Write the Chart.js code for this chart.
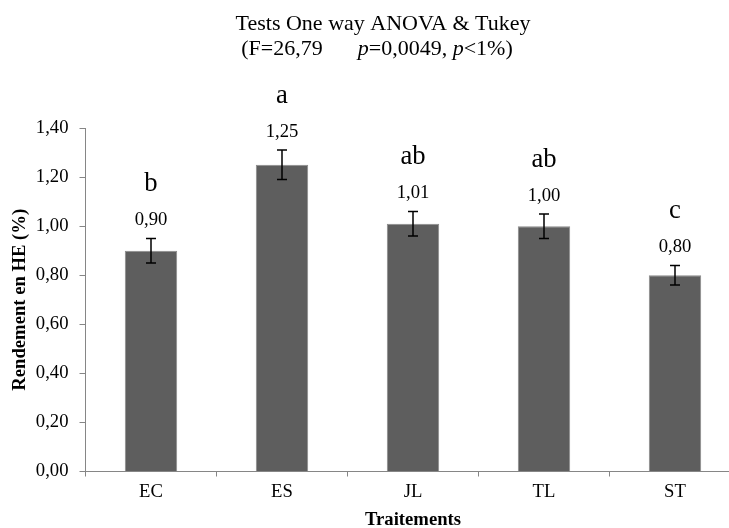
<!DOCTYPE html>
<html>
<head>
<meta charset="utf-8">
<script src="https://cdn.jsdelivr.net/npm/chart.js@4/dist/chart.umd.min.js"></script>
<style>
  html, body { margin: 0; padding: 0; background: #ffffff; overflow: hidden; }
  #wrap { width: 766px; height: 530px; }
</style>
</head>
<body>
<div id="wrap"><canvas id="c" width="766" height="530"></canvas></div>
<script>
// Treatments and their mean essential-oil yield (%)
const categories = ['EC', 'ES', 'JL', 'TL', 'ST'];
const means = [0.90, 1.25, 1.01, 1.00, 0.80];
const errors = [0.05, 0.06, 0.05, 0.05, 0.04];
const groupLetters = ['b', 'a', 'ab', 'ab', 'c'];
const yTicks = [0, 0.2, 0.4, 0.6, 0.8, 1.0, 1.2, 1.4];
const titleLine1 = 'Tests One way ANOVA & Tukey';
const titleLine2 = [
  { text: '(F=26,79', italic: false },
  { text: '', gap: 35 },
  { text: 'p', italic: true },
  { text: '=0,0049, ', italic: false },
  { text: 'p', italic: true },
  { text: '<1%)', italic: false }
];

const SERIF = '"Liberation Serif", "Times New Roman", serif';
const fmt = v => v.toFixed(2).replace('.', ',');

// Two-line heading with italic p
const headingPlugin = {
  id: 'heading',
  afterDraw(chart) {
    const ctx = chart.ctx;
    const cx = chart.width / 2;
    ctx.save();
    ctx.fillStyle = '#000';
    ctx.textBaseline = 'alphabetic';
    ctx.textAlign = 'center';
    ctx.font = '22px ' + SERIF;
    ctx.fillText(titleLine1, cx, 30);
    // second line, measured piece by piece
    const font = it => (it ? 'italic ' : '') + '22px ' + SERIF;
    let total = 0;
    titleLine2.forEach(s => {
      if (s.gap) { total += s.gap; return; }
      ctx.font = font(s.italic);
      total += ctx.measureText(s.text).width;
    });
    let x = cx - 6 - total / 2;
    ctx.textAlign = 'left';
    titleLine2.forEach(s => {
      if (s.gap) { x += s.gap; return; }
      ctx.font = font(s.italic);
      ctx.fillText(s.text, x, 55);
      x += ctx.measureText(s.text).width;
    });
    ctx.restore();
  }
};

// Error bars, value labels and Tukey group letters above each bar
const annotatePlugin = {
  id: 'annotate',
  afterDatasetsDraw(chart) {
    const ctx = chart.ctx;
    const meta = chart.getDatasetMeta(0);
    const y = chart.scales.y;
    ctx.save();
    meta.data.forEach((bar, i) => {
      const x = bar.x;
      const top = y.getPixelForValue(means[i] + errors[i]);
      const bot = y.getPixelForValue(means[i] - errors[i]);
      ctx.strokeStyle = '#000';
      ctx.lineWidth = 1.5;
      ctx.beginPath();
      ctx.moveTo(x, top); ctx.lineTo(x, bot);
      ctx.moveTo(x - 5, top); ctx.lineTo(x + 5, top);
      ctx.moveTo(x - 5, bot); ctx.lineTo(x + 5, bot);
      ctx.stroke();

      ctx.fillStyle = '#000';
      ctx.textAlign = 'center';
      ctx.textBaseline = 'alphabetic';
      const labelBase = top - 13;
      ctx.font = '18.67px ' + SERIF;
      ctx.fillText(fmt(means[i]), x, labelBase);
      ctx.font = '26.67px ' + SERIF;
      ctx.fillText(groupLetters[i], x, labelBase - 34);
    });
    ctx.restore();
  }
};

new Chart(document.getElementById('c'), {
  type: 'bar',
  data: {
    labels: categories,
    datasets: [{
      data: means,
      backgroundColor: '#5e5e5e',
      borderColor: '#8a8a8a',
      borderWidth: 1,
      barPercentage: 0.4,
      categoryPercentage: 1.0
    }]
  },
  options: {
    responsive: false,
    animation: false,
    layout: { padding: { top: 128, left: 5, right: 25.5, bottom: 0 } },
    plugins: {
      legend: { display: false },
      tooltip: { enabled: false },
      title: { display: false }
    },
    scales: {
      x: {
        afterFit: axis => { axis.height = 58.5; },
        grid: { drawOnChartArea: false, drawTicks: true, tickLength: 5, color: '#868686', offset: true },
        border: { display: true, color: '#868686', width: 1 },
        ticks: { color: '#000', padding: 6, font: { family: SERIF, size: 18.67, lineHeight: 1 } },
        title: {
          display: true, text: 'Traitements', color: '#000',
          font: { family: SERIF, size: 18.67, weight: 'bold', lineHeight: 1 },
          padding: { top: 9.5, bottom: 0 }
        }
      },
      y: {
        min: 0, max: 1.4,
        afterFit: axis => { axis.width = 80.5; },
        afterBuildTicks: axis => { axis.ticks = yTicks.map(v => ({ value: v })); },
        grid: { drawOnChartArea: false, drawTicks: true, tickLength: 6, color: '#868686' },
        border: { display: true, color: '#868686', width: 1 },
        ticks: { color: '#000', padding: 11, callback: v => fmt(v), font: { family: SERIF, size: 18.67 } },
        title: {
          display: true, text: 'Rendement en HE (%)', color: '#000',
          font: { family: SERIF, size: 18.67, weight: 'bold', lineHeight: 1.2 },
          padding: { top: 4, bottom: 4 }
        }
      }
    }
  },
  plugins: [headingPlugin, annotatePlugin]
});
</script>
</body>
</html>
